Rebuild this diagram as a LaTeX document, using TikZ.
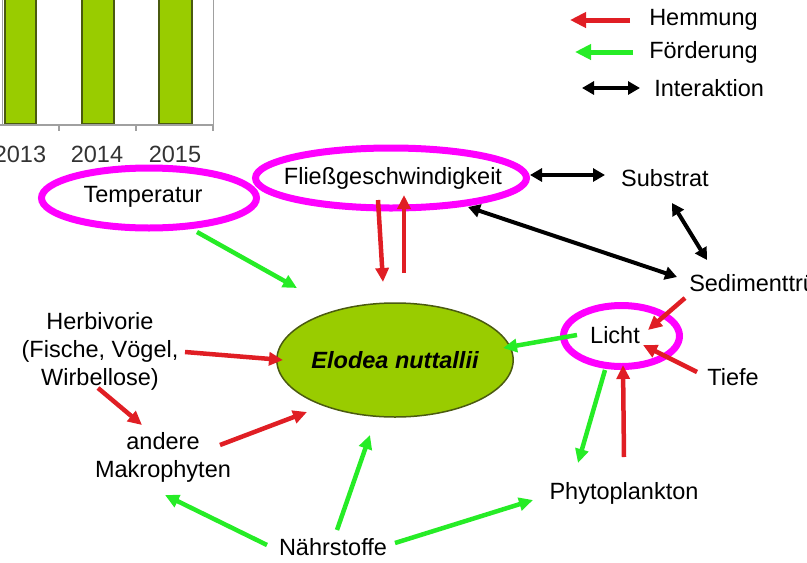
\documentclass[tikz,border=0pt]{standalone}
\usepackage{fontspec}
\setmainfont{Liberation Sans}
\usepackage{xcolor}
\usepackage{tikz}
\usetikzlibrary{arrows.meta}
\usetikzlibrary{shapes.geometric}

\definecolor{hemmred}{HTML}{E01E24}
\definecolor{foerdgreen}{HTML}{26EC26}
\definecolor{markpink}{HTML}{FF00FF}
\definecolor{plantgreen}{HTML}{99CC00}
\definecolor{bardark}{HTML}{4A5A10}
\definecolor{axisgray}{HTML}{A0A0A0}
\definecolor{yeargray}{HTML}{333333}

\tikzset{
  hemm/.style={draw=hemmred,->},
  foerd/.style={draw=foerdgreen,->},
  inter/.style={draw=black,<->,line width=4pt,>={Triangle[length=12pt,width=13pt]}},
  hilite/.style={draw=markpink,line width=7pt},
  elodeabox/.style={ellipse,draw=bardark,line width=1.5pt,fill=plantgreen,
    minimum width=194pt,minimum height=114pt},
  bar/.style={fill=plantgreen,draw=bardark,line width=1.5pt}
}

\begin{document}
\begin{tikzpicture}[x=1pt,y=-1pt,line width=4.5pt,
    >={Triangle[length=14pt,width=13pt]},
    every node/.style={inner sep=0pt,font=\fontsize{23.5}{28}\selectfont}]

    \useasboundingbox (0,0) rectangle (807,563);

    % Ausschnitt Balkendiagramm
    \draw[axisgray,line width=1pt] (2,-2) -- (2,125);
    \draw[axisgray,line width=1pt] (213,-2) -- (213,125);
    \draw[bar] (5,-3) rectangle (36,124);
    \draw[bar] (82,-3) rectangle (114,124);
    \draw[bar] (159,-3) rectangle (192,124);
    \draw[axisgray,line width=1.5pt] (0,125) -- (213,125)
      (59,125) -- (59,131) (136,125) -- (136,131) (213,125) -- (213,131);
    \node[yeargray] (y2013) at (20,154) {2013};
    \node[yeargray] (y2014) at (97,154) {2014};
    \node[yeargray] (y2015) at (175,154) {2015};

    % Legende
    \node[anchor=west] (hemlab) at (647,20) {Hemmung};
    \node[anchor=west] (foerlab) at (647,52) {Förderung};
    \node[anchor=west] (interlab) at (652,88) {Interaktion};
    \draw[hemm,line width=5pt,>={Triangle[length=16pt,width=15pt]}] ([xshift=-17]hemlab.west) -- ([xshift=-77]hemlab.west);
    \draw[foerd,line width=5pt,>={Triangle[length=16pt,width=15pt]}] ([xshift=-14]foerlab.west) -- ([xshift=-72]foerlab.west);
    \draw[inter] ([xshift=-70]interlab.west) -- ([xshift=-12]interlab.west);

    % Faktoren
    \node (temp) at (143,197) {Temperatur};
    \node (fliess) at (393,178) {Fließgeschwindigkeit};
    \node (substrat) at (665,178) {Substrat};
    \node[anchor=west] (sediment) at (687,285) {Sedimenttrübung};
    \node (licht) at (615,335) {Licht};
    \node (tiefe) at (733,377) {Tiefe};
    \node (phyto) at (624,493) {Phytoplankton};
    \node (naehr) at (333,547) {Nährstoffe};
    \node[align=center] (makro) at (163,457) {andere\\Makrophyten};
    \node[align=center] (herbi) at (100,351) {Herbivorie\\(Fische, Vögel,\\Wirbellose)};
    \node[elodeabox] (elodea) at (395,360) {\bfseries\itshape Elodea nuttallii};

    % Markierungen
    \draw[hilite] ([shift={(6,1)}]temp.center) ellipse [x radius=107.5, y radius=30];
    \draw[hilite] ([shift={(-2,0)}]fliess.center) ellipse [x radius=135.5, y radius=30];
    \draw[hilite] ([shift={(6.5,1)}]licht.center) ellipse [x radius=58, y radius=30.5];

    % Wirkungen
    \path ([shift={(54,35)}]temp.center) edge[foerd] ([shift={(-98,-72)}]elodea.center)
    ([shift={(-15,22)}]fliess.center) edge[hemm] ([shift={(-12,-78)}]elodea.center)
    ([shift={(9,-87)}]elodea.center) edge[hemm] ([shift={(11,17)}]fliess.center)
    ([shift={(85,1)}]herbi.center) edge[hemm] ([shift={(-112,0)}]elodea.center)
    ([shift={(-2,37)}]herbi.center) edge[hemm] ([shift={(-21,-32)}]makro.center)
    ([shift={(57,-12)}]makro.center) edge[hemm] ([shift={(-88,52)}]elodea.center)
    ([shift={(4,-17)}]naehr.center) edge[foerd] ([shift={(-25,75)}]elodea.center)
    ([shift={(-66,-2)}]naehr.center) edge[foerd] ([shift={(2,38)}]makro.center)
    ([shift={(62,-4)}]naehr.center) edge[foerd] ([shift={(-91,7)}]phyto.center)
    ([shift={(-38,0)}]licht.center) edge[foerd] ([shift={(108,-12)}]elodea.center)
    ([shift={(-10,35)}]licht.center) edge[foerd] ([shift={(-46,-30)}]phyto.center)
    ([shift={(0,-36)}]phyto.center) edge[hemm] ([shift={(8,30)}]licht.center)
    ([shift={(-2,13)}]sediment.west) edge[hemm] ([shift={(33,-5)}]licht.center)
    ([shift={(-36,-5)}]tiefe.center) edge[hemm] ([shift={(28,10)}]licht.center);

    \path ([shift={(137,-3)}]fliess.center) edge[inter] ([shift={(-60,-3)}]substrat.center)
    ([shift={(75,29)}]fliess.center) edge[inter] ([shift={(-10,-8)}]sediment.west)
    ([shift={(7,25)}]substrat.center) edge[inter] ([shift={(20,-25)}]sediment.west);

\end{tikzpicture}
\end{document}
